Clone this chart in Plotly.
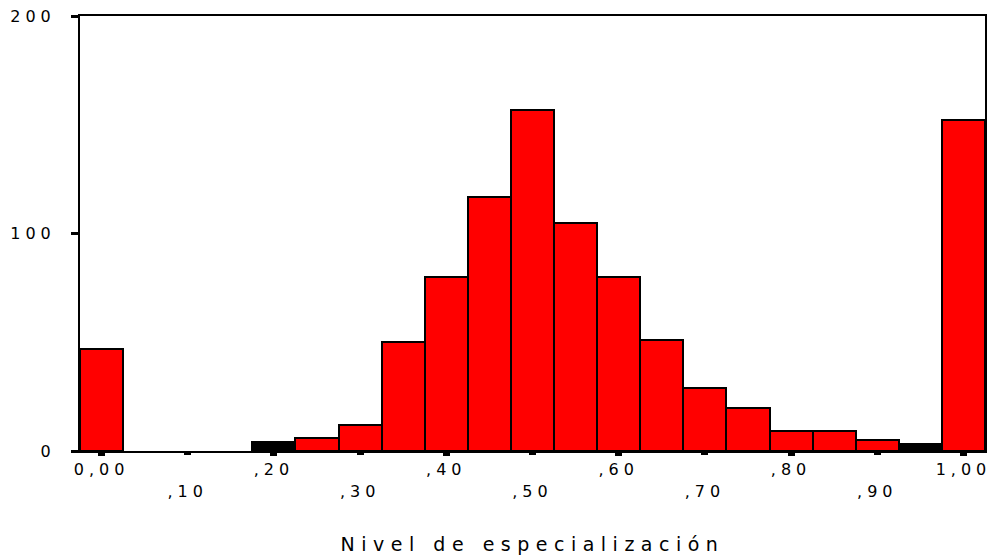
import plotly.graph_objects as go

# bin centres (nivel de especialización) and counts per bin
bins = [0.00, 0.05, 0.10, 0.15, 0.20, 0.25, 0.30, 0.35, 0.40, 0.45, 0.50,
        0.55, 0.60, 0.65, 0.70, 0.75, 0.80, 0.85, 0.90, 0.95, 1.00]
counts = [47, 0, 0, 0, 4, 6, 12, 50, 80, 117, 157,
          105, 80, 51, 29, 20, 9, 9, 5, 3, 152]

# staggered x tick labels (SPSS style)
ticks_top = [0.0, 0.2, 0.4, 0.6, 0.8, 1.0]
labels_top = ["0,00", ",20", ",40", ",60", ",80", "1,00"]
ticks_low = [0.1, 0.3, 0.5, 0.7, 0.9]
labels_low = [",10", ",30", ",50", ",70", ",90"]

y_ticks = [0, 100, 200]

# very short bars come out as solid black in the original
bar_colors = ["black" if b in (0.20, 0.95) else "#ff0000" for b in bins]
# empty bins get no outline
bar_lines = [2 if c > 0 else 0 for c in counts]

FONT = "DejaVu Sans"

fig = go.Figure()
fig.add_trace(go.Bar(
    x=bins, y=counts, width=0.05,
    marker=dict(color=bar_colors, line=dict(color="black", width=bar_lines)),
    hoverinfo="x+y",
))

fig.update_layout(
    width=996, height=557,
    margin=dict(l=80, r=11, t=16, b=106),
    plot_bgcolor="white", paper_bgcolor="white",
    showlegend=False, bargap=0,
    font=dict(family=FONT, size=16, color="black"),
    xaxis=dict(
        range=[-0.025, 1.025], tickvals=ticks_top, ticktext=labels_top,
        ticks="outside", ticklen=3, tickwidth=7, tickcolor="black",
        showline=True, linecolor="black", linewidth=2, mirror=True,
        showgrid=False, zeroline=False, ticklabelstandoff=0, automargin=False,
        title=dict(text="Nivel de especialización", font=dict(size=19), standoff=59),
    ),
    xaxis2=dict(
        overlaying="x", matches="x", anchor="y", side="bottom",
        tickvals=ticks_low, ticktext=labels_low,
        ticks="outside", ticklen=3, tickwidth=7, tickcolor="black",
        showline=False, showgrid=False, zeroline=False, ticklabelstandoff=23,
        automargin=False,
    ),
    yaxis=dict(
        range=[0, 200], tickvals=y_ticks,
        ticks="outside", ticklen=7, tickwidth=3, tickcolor="black",
        showline=True, linecolor="black", linewidth=2, mirror=True,
        showgrid=False, zeroline=False, ticklabelstandoff=12, automargin=False,
    ),
)
# dummy trace to make the second x axis render
fig.add_trace(go.Scatter(x=[None], y=[None], xaxis="x2", yaxis="y", showlegend=False))

spacing = """
document.body.style.margin = '0';
var gd = document.getElementById('{plot_id}');
function spread() {
  gd.querySelectorAll('.xtick text, .x2tick text, .ytick text').forEach(function (t) {
    t.style.letterSpacing = '5px';
  });
  gd.querySelectorAll('.g-xtitle text').forEach(function (t) {
    t.style.letterSpacing = '6.5px';
  });
}
spread();
gd.on('plotly_afterplot', spread);
"""

fig.write_html("out.html", post_script=spacing, config={"displayModeBar": False})
